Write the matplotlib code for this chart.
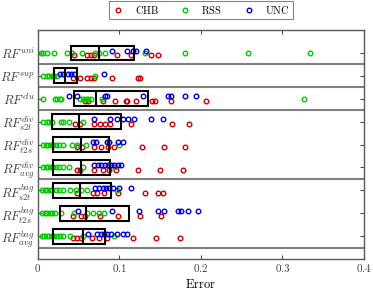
import numpy as np
import matplotlib
matplotlib.use("Agg")
import matplotlib.pyplot as plt

plt.rcParams['mathtext.fontset'] = 'cm'
plt.rcParams['font.family'] = 'serif'

labels = [r'$RF^{uni}$', r'$RF^{sup}$', r'$RF^{clu}$',
          r'$RF^{div}_{s2t}$', r'$RF^{div}_{t2s}$', r'$RF^{div}_{avg}$',
          r'$RF^{bag}_{s2t}$', r'$RF^{bag}_{t2s}$', r'$RF^{bag}_{avg}$']

# error values, one list per method / row
chb = [
    [0.0445, 0.060, 0.065, 0.069, 0.0976, 0.114, 0.1385, 0.147],
    [0.043, 0.052, 0.061, 0.065, 0.069, 0.091, 0.123, 0.126],
    [0.058, 0.062, 0.080, 0.095, 0.108, 0.109, 0.121, 0.140, 0.144, 0.163, 0.206],
    [0.046, 0.052, 0.069, 0.076, 0.0825, 0.0886, 0.114, 0.165, 0.185],
    [0.0486, 0.054, 0.069, 0.078, 0.0866, 0.0935, 0.128, 0.155, 0.181],
    [0.0486, 0.052, 0.069, 0.080, 0.088, 0.096, 0.123, 0.150, 0.178],
    [0.0486, 0.068, 0.073, 0.0816, 0.099, 0.131, 0.148, 0.153],
    [0.0437, 0.0527, 0.058, 0.076, 0.099, 0.125, 0.151],
    [0.043, 0.048, 0.053, 0.067, 0.0755, 0.0846, 0.1165, 0.145, 0.175],
]
rss = [
    [0.0037, 0.0069, 0.011, 0.020, 0.036, 0.042, 0.054, 0.070, 0.075, 0.082, 0.132, 0.181, 0.258, 0.334],
    [0.006, 0.011, 0.014, 0.017, 0.020, 0.024, 0.070],
    [0.0069, 0.021, 0.024, 0.027, 0.029, 0.052, 0.056, 0.059, 0.062, 0.065, 0.079, 0.326],
    [0.0069, 0.011, 0.014, 0.017, 0.028, 0.031, 0.039, 0.056],
    [0.007, 0.010, 0.013, 0.016, 0.019, 0.0225, 0.026, 0.031, 0.042, 0.048, 0.059, 0.100],
    [0.007, 0.010, 0.013, 0.016, 0.019, 0.0225, 0.026, 0.031, 0.039, 0.056, 0.095],
    [0.005, 0.009, 0.012, 0.015, 0.018, 0.0225, 0.0265, 0.031, 0.040, 0.047, 0.053, 0.060, 0.097],
    [0.005, 0.009, 0.012, 0.015, 0.018, 0.021, 0.028, 0.0445, 0.061, 0.068, 0.0755, 0.081],
    [0.005, 0.0077, 0.011, 0.014, 0.017, 0.020, 0.024, 0.027, 0.031, 0.040, 0.056, 0.093],
]
unc = [
    [0.0915, 0.110, 0.1165, 0.121, 0.133],
    [0.027, 0.031, 0.0375, 0.041, 0.044, 0.081],
    [0.0388, 0.048, 0.082, 0.0845, 0.129, 0.160, 0.164, 0.181, 0.194],
    [0.069, 0.0886, 0.0976, 0.105, 0.111, 0.118, 0.139, 0.153],
    [0.068, 0.072, 0.0846, 0.088, 0.099, 0.104],
    [0.069, 0.0735, 0.078, 0.082, 0.086, 0.090, 0.094, 0.098, 0.102],
    [0.070, 0.0755, 0.0797, 0.0837, 0.088, 0.092, 0.100, 0.114],
    [0.050, 0.0907, 0.1245, 0.147, 0.155, 0.172, 0.1756, 0.1846, 0.197],
    [0.062, 0.073, 0.077, 0.081, 0.085, 0.0895, 0.0976, 0.104, 0.109],
]

# box: lower quartile, median, upper quartile
q1 = [0.041, 0.020, 0.0445, 0.018, 0.019, 0.019, 0.019, 0.027, 0.019]
med = [0.075, 0.034, 0.0715, 0.051, 0.053, 0.053, 0.052, 0.059, 0.056]
q3 = [0.118, 0.0485, 0.135, 0.102, 0.088, 0.0886, 0.0895, 0.112, 0.0825]

separators = [0.5, 1.5, 2.5, 5.5, 8.5]

red = (0.8, 0, 0)
green = (0, 0.8, 0)
blue = (0, 0, 0.85)

fig = plt.figure(figsize=(3.73, 2.95), dpi=100)
ax = fig.add_axes([0.101, 0.122, 0.875, 0.776])

pos = np.arange(len(labels))
for i in pos:
    ax.plot(chb[i], [i + 0.1] * len(chb[i]), 'o', mfc='none', mec=red, ms=3.3, mew=1.0,
            label=r'$\mathrm{CHB}$' if i == 0 else None)
    ax.plot(rss[i], [i] * len(rss[i]), 'o', mfc='none', mec=green, ms=3.3, mew=1.0,
            label=r'$\mathrm{RSS}$' if i == 0 else None)
    ax.plot(unc[i], [i - 0.1] * len(unc[i]), 'o', mfc='none', mec=blue, ms=3.3, mew=1.0,
            label=r'$\mathrm{UNC}$' if i == 0 else None)

q1 = np.array(q1)
q3 = np.array(q3)
ax.barh(pos, q3 - q1, left=q1, height=0.65, fill=False, edgecolor='k', linewidth=1.5, zorder=3)
ax.vlines(med, pos - 0.325, pos + 0.325, color='k', linewidth=1.5, zorder=3)

for s in separators:
    ax.axhline(s, color='0.5', linewidth=1.5, zorder=1)

ax.set_ylim(9, -1)
ax.set_xlim(0, 0.4)
ax.set_yticks(pos)
ax.set_yticklabels(labels, fontsize=9, color='0.25')
ax.set_xticks([0, 0.1, 0.2, 0.3, 0.4])
ax.set_xticklabels([r'$0$', r'$0.1$', r'$0.2$', r'$0.3$', r'$0.4$'], fontsize=8, color='0.25')
ax.set_xlabel(r'$\mathrm{Error}$', fontsize=9, labelpad=3)
ax.tick_params(direction='in', top=True, right=True, length=3, width=0.8, color='0.3', pad=2)
for sp in ax.spines.values():
    sp.set_color('0.35')
    sp.set_linewidth(1.0)

leg = ax.legend(loc='center', bbox_to_anchor=(0.499, 1.088), ncol=3, fontsize=7.5,
                frameon=True, fancybox=False, edgecolor='0.4', handletextpad=0.9,
                columnspacing=1.9, borderpad=0.3, handlelength=1.3, borderaxespad=0)
leg.get_frame().set_linewidth(0.8)

fig.savefig('out.png', dpi=100)
